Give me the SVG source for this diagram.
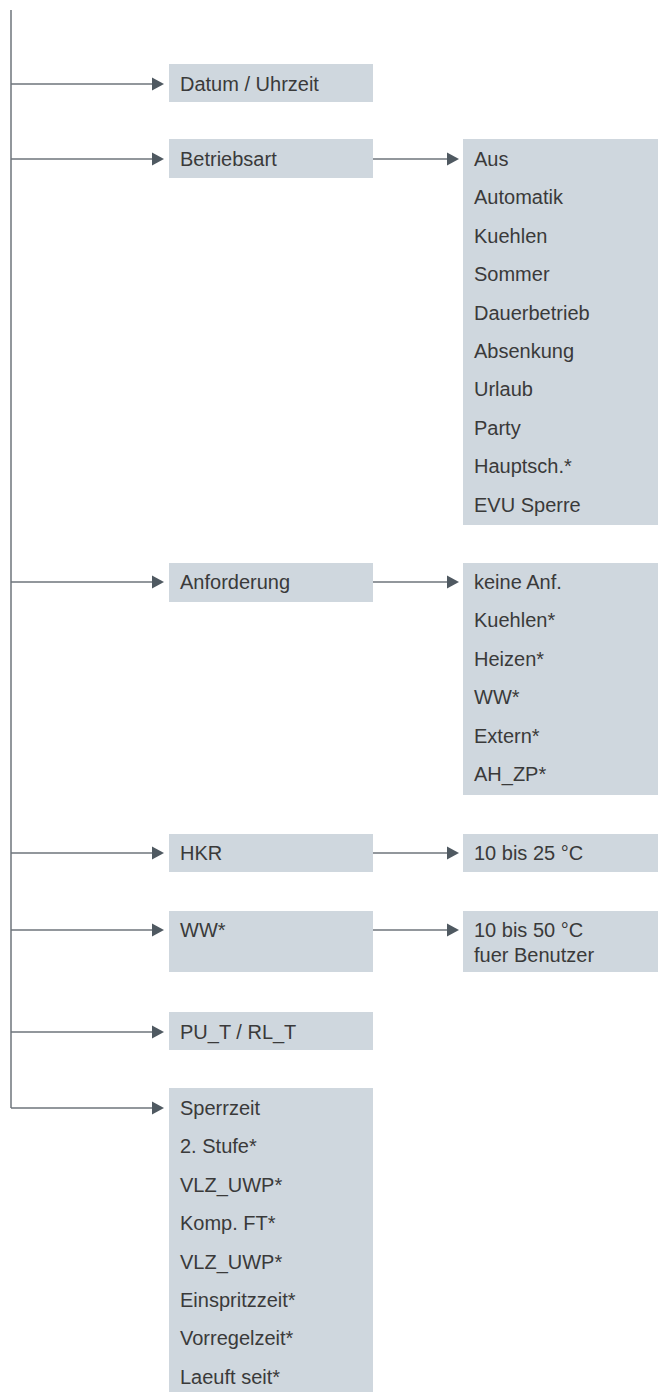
<svg xmlns="http://www.w3.org/2000/svg" width="658" height="1392" viewBox="0 0 658 1392">
<style>
.box{fill:#cfd7de}
.t{font-family:"Liberation Sans",Arial,sans-serif;font-size:20px;fill:#3a3a3a}
.ln{stroke:#6e757b;stroke-width:1.5;fill:none}
.ah{fill:#4f5961}
</style>
<defs>
<path id="arr" class="ah" d="M0,0 L-12,-6.5 L-12,6.5 Z"/>
</defs>
<rect width="658" height="1392" fill="#fff"/>
<g id="connectors">
<path class="ln" d="M11,10 V1108"/>
<path class="ln" d="M11,84 H152"/><use href="#arr" x="164" y="84"/>
<path class="ln" d="M11,159 H152"/><use href="#arr" x="164" y="159"/>
<path class="ln" d="M373,159 H447"/><use href="#arr" x="459" y="159"/>
<path class="ln" d="M11,582 H152"/><use href="#arr" x="164" y="582"/>
<path class="ln" d="M373,582 H447"/><use href="#arr" x="459" y="582"/>
<path class="ln" d="M11,853 H152"/><use href="#arr" x="164" y="853"/>
<path class="ln" d="M373,853 H447"/><use href="#arr" x="459" y="853"/>
<path class="ln" d="M11,930 H152"/><use href="#arr" x="164" y="930"/>
<path class="ln" d="M373,930 H447"/><use href="#arr" x="459" y="930"/>
<path class="ln" d="M11,1032 H152"/><use href="#arr" x="164" y="1032"/>
<path class="ln" d="M11,1108 H152"/><use href="#arr" x="164" y="1108"/>
</g>
<g id="datum"><rect class="box" x="169" y="64" width="204" height="38"/><text class="t" x="180" y="91">Datum / Uhrzeit</text></g>
<g id="betriebsart"><rect class="box" x="169" y="139" width="204" height="39"/><text class="t" x="180" y="166">Betriebsart</text></g>
<g id="betriebsart-options"><rect class="box" x="463" y="139" width="195" height="386"/>
<text class="t" x="474" y="166">Aus</text>
<text class="t" x="474" y="204.4">Automatik</text>
<text class="t" x="474" y="242.8">Kuehlen</text>
<text class="t" x="474" y="281.2">Sommer</text>
<text class="t" x="474" y="319.6">Dauerbetrieb</text>
<text class="t" x="474" y="358">Absenkung</text>
<text class="t" x="474" y="396.4">Urlaub</text>
<text class="t" x="474" y="434.8">Party</text>
<text class="t" x="474" y="473.2">Hauptsch.*</text>
<text class="t" x="474" y="511.6">EVU Sperre</text>
</g>
<g id="anforderung"><rect class="box" x="169" y="563" width="204" height="39"/><text class="t" x="180" y="589">Anforderung</text></g>
<g id="anforderung-options"><rect class="box" x="463" y="563" width="195" height="232"/>
<text class="t" x="474" y="589">keine Anf.</text>
<text class="t" x="474" y="627.4">Kuehlen*</text>
<text class="t" x="474" y="665.8">Heizen*</text>
<text class="t" x="474" y="704.2">WW*</text>
<text class="t" x="474" y="742.6">Extern*</text>
<text class="t" x="474" y="781">AH_ZP*</text>
</g>
<g id="hkr"><rect class="box" x="169" y="834" width="204" height="38"/><text class="t" x="180" y="860">HKR</text></g>
<g id="hkr-range"><rect class="box" x="463" y="834" width="195" height="38"/><text class="t" x="474" y="860">10 bis 25 °C</text></g>
<g id="ww"><rect class="box" x="169" y="911" width="204" height="61"/><text class="t" x="180" y="937">WW*</text></g>
<g id="ww-range"><rect class="box" x="463" y="911" width="195" height="61"/><text class="t" x="474" y="937">10 bis 50 °C</text><text class="t" x="474" y="962">fuer Benutzer</text></g>
<g id="pu-rl"><rect class="box" x="169" y="1012" width="204" height="38"/><text class="t" x="180" y="1039">PU_T / RL_T</text></g>
<g id="sperrzeit"><rect class="box" x="169" y="1088" width="204" height="304"/>
<text class="t" x="180" y="1115">Sperrzeit</text>
<text class="t" x="180" y="1153.4">2. Stufe*</text>
<text class="t" x="180" y="1191.8">VLZ_UWP*</text>
<text class="t" x="180" y="1230.2">Komp. FT*</text>
<text class="t" x="180" y="1268.6">VLZ_UWP*</text>
<text class="t" x="180" y="1307">Einspritzzeit*</text>
<text class="t" x="180" y="1345.4">Vorregelzeit*</text>
<text class="t" x="180" y="1383.8">Laeuft seit*</text>
</g>
</svg>
